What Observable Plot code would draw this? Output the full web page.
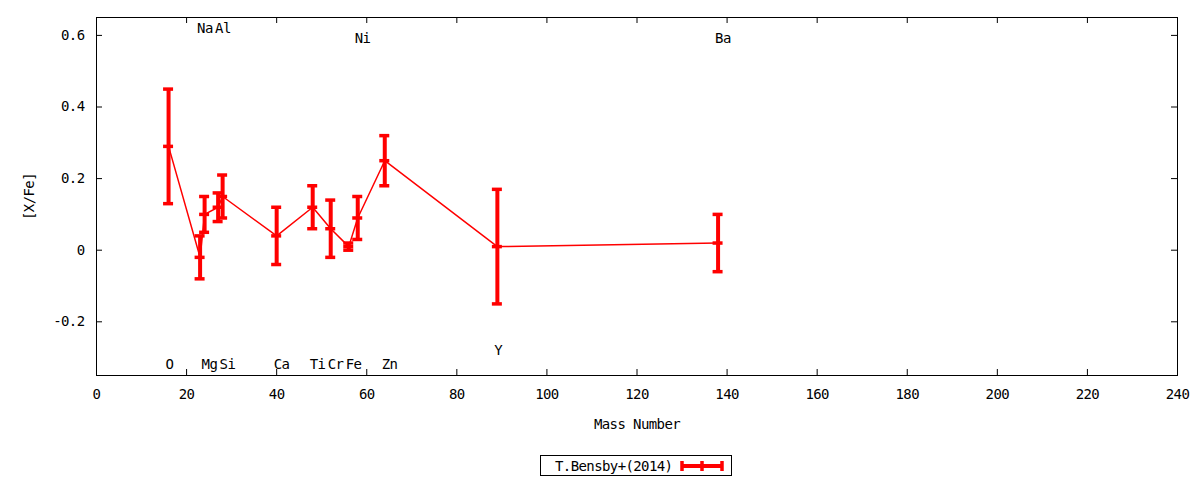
<!DOCTYPE html>
<html>
<head>
<meta charset="utf-8">
<script src="https://cdn.jsdelivr.net/npm/d3@7"></script>
<script src="https://cdn.jsdelivr.net/npm/@observablehq/plot@0.6"></script>
<style>
  body { margin: 0; background: #fff; font-family: "DejaVu Sans Mono", monospace; }
  #chart { position: relative; width: 1200px; height: 480px; }
  #legend {
    position: absolute; left: 540px; top: 455px; width: 192px; height: 21px;
    box-sizing: border-box; border: 1px solid #000; display: flex; align-items: center;
    font-size: 14px; letter-spacing: -0.6px; color: #000;
  }
  #legend span { margin-left: 14px; }
  #legend svg { margin-left: 8px; }
</style>
</head>
<body>
<div id="chart"></div>
<script>
// Bensby et al. (2014) abundance pattern, [X/Fe] vs mass number
const elements = ["O", "Na", "Mg", "Al", "Si", "Ca", "Ti", "Cr", "Fe", "Ni", "Zn", "Y", "Ba"]
const massNumber = [16, 23, 24, 27, 28, 40, 48, 52, 56, 58, 64, 89, 138]
const xFe = [0.29, -0.02, 0.10, 0.12, 0.15, 0.04, 0.12, 0.06, 0.01, 0.09, 0.25, 0.01, 0.02]
const xFeErr = [0.16, 0.06, 0.05, 0.04, 0.06, 0.08, 0.06, 0.08, 0.01, 0.06, 0.07, 0.16, 0.08]
// where each element name sits (in [X/Fe] units)
const labelY = [-0.32, 0.62, -0.32, 0.62, -0.32, -0.32, -0.32, -0.32, -0.32, 0.59, -0.32, -0.28, 0.59]

const xTicks = [0, 20, 40, 60, 80, 100, 120, 140, 160, 180, 200, 220, 240]
const yTicks = [-0.2, 0, 0.2, 0.4, 0.6]

let data = elements.map((el, i) => {
  return {
    element: el,
    mass: massNumber[i],
    value: xFe[i],
    lo: xFe[i] - xFeErr[i],
    hi: xFe[i] + xFeErr[i],
    labelY: labelY[i],
  }
})

const W = 1200, H = 445
const mL = 96, mR = 23, mT = 17, mB = 70
const innerW = W - mL - mR, innerH = H - mT - mB
const tick = 6
const red = "#ff0000"

function drawChart() {
  const plot = Plot.plot({
    width: W,
    height: H,
    marginLeft: mL,
    marginRight: mR,
    marginTop: mT,
    marginBottom: mB,
    style: { fontFamily: "DejaVu Sans Mono", fontSize: "14px", color: "#000", background: "#fff", letterSpacing: "-0.6px" },
    x: { domain: [0, 240] },
    y: { domain: [-0.35, 0.65] },
    marks: [
      Plot.frame({ stroke: "#000" }),
      // inward ticks on all four sides
      Plot.ruleX(xTicks, { x: d => d, insetTop: innerH - tick, stroke: "#000" }),
      Plot.ruleX(xTicks, { x: d => d, insetBottom: innerH - tick, stroke: "#000" }),
      Plot.ruleY(yTicks, { y: d => d, insetRight: innerW - tick, stroke: "#000" }),
      Plot.ruleY(yTicks, { y: d => d, insetLeft: innerW - tick, stroke: "#000" }),
      Plot.axisX(xTicks, {
        tickSize: 0, tickPadding: 14, label: "Mass Number", labelAnchor: "center", labelArrow: "none", labelOffset: 53
      }),
      Plot.axisY(yTicks, {
        tickSize: 0, tickPadding: 12, tickFormat: d => d === 0 ? "0" : d.toFixed(1),
        label: "[X/Fe]", labelAnchor: "center", labelArrow: "none", labelOffset: 72
      }),
      // connecting line
      Plot.line(data, { x: "mass", y: "value", stroke: red, strokeWidth: 1.5 }),
      // error bars
      Plot.ruleX(data, { x: "mass", y1: "lo", y2: "hi", stroke: red, strokeWidth: 4 }),
      Plot.ruleY(data, { y: "lo", x1: "mass", x2: "mass", insetLeft: -5, insetRight: -5, stroke: red, strokeWidth: 3.5 }),
      Plot.ruleY(data, { y: "hi", x1: "mass", x2: "mass", insetLeft: -5, insetRight: -5, stroke: red, strokeWidth: 3.5 }),
      Plot.ruleY(data, { y: "value", x1: "mass", x2: "mass", insetLeft: -5, insetRight: -5, stroke: red, strokeWidth: 3.5 }),
      // element names
      Plot.text(data, { x: "mass", y: "labelY", text: "element", textAnchor: "start", dx: -3, fill: "#000" }),
    ]
  })
  const div = document.querySelector("#chart")
  div.innerText = ''
  div.append(plot)

  // legend below the svg
  const legend = document.createElement("div")
  legend.id = "legend"
  legend.innerHTML = `<span>T.Bensby+(2014)</span>
    <svg width="44" height="12">
      <line x1="1" y1="6" x2="43" y2="6" stroke="${red}" stroke-width="4"/>
      <line x1="2" y1="1" x2="2" y2="11" stroke="${red}" stroke-width="3.5"/>
      <line x1="22" y1="1" x2="22" y2="11" stroke="${red}" stroke-width="3.5"/>
      <line x1="42" y1="1" x2="42" y2="11" stroke="${red}" stroke-width="3.5"/>
    </svg>`
  div.append(legend)
}
drawChart()
</script>
</body>
</html>
